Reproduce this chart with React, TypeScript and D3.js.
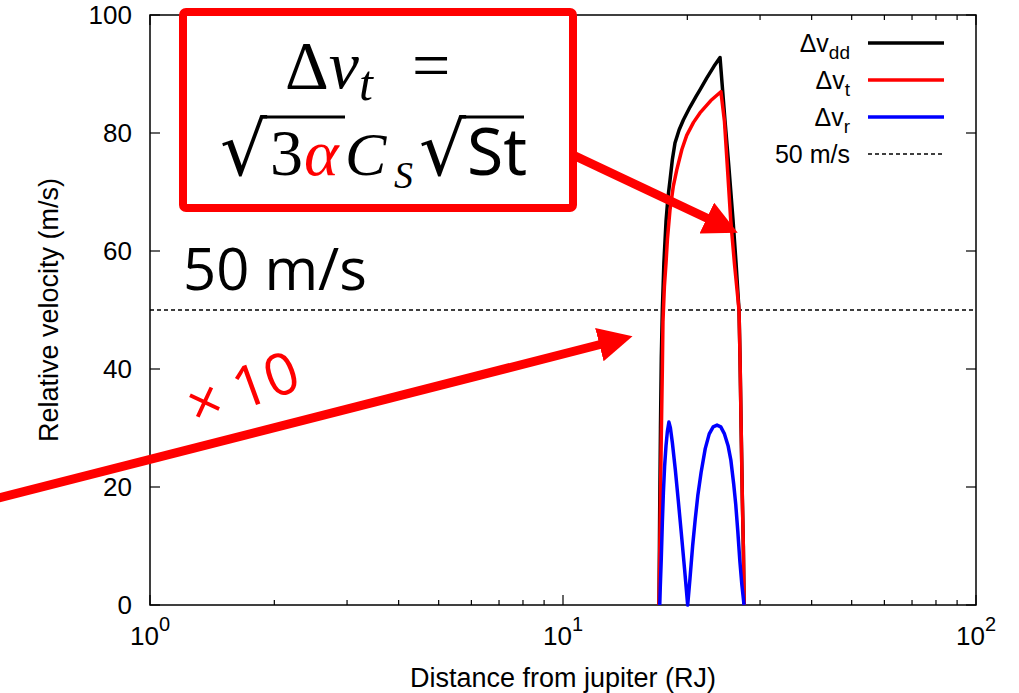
import React, { useEffect, useRef } from "react";
import * as d3 from "d3";

// distance from jupiter (RJ) vs relative velocity (m/s)
const dvDD: [number, number][] = [
  [17.08, 0], [17.14, 15], [17.22, 30], [17.3, 42], [17.4, 50], [17.55, 58],
  [17.76, 65], [17.95, 69], [18.16, 72], [18.4, 75.5], [18.67, 78.3],
  [19.1, 80.5], [19.56, 82.2], [20.3, 84.4], [21.0, 86.2], [21.46, 87.3],
  [22.28, 89.3], [23.2, 91.3], [24.0, 92.8], [24.68, 82], [25.23, 74],
  [25.8, 65.3], [26.24, 58], [26.68, 50], [26.83, 42], [27.0, 30],
  [27.18, 18], [27.33, 10], [27.45, 0],
];
const dvT: [number, number][] = [
  [17.08, 0], [17.17, 12], [17.3, 29], [17.4, 40], [17.46, 48], [17.6, 54],
  [17.76, 58], [17.9, 62], [18.16, 67], [18.5, 71], [18.85, 73.7],
  [19.4, 77.2], [19.93, 79.6], [20.7, 81.8], [21.46, 83.4], [22.8, 85.5],
  [24.12, 87], [24.6, 82], [25.07, 73], [25.47, 65.3], [26.0, 58],
  [26.68, 50], [26.83, 42], [27.0, 30], [27.18, 18], [27.33, 10], [27.45, 0],
];
const dvR: [number, number][] = [
  [17.15, 0], [17.2, 3], [17.3, 8], [17.4, 14], [17.5, 19], [17.62, 23.5],
  [17.76, 27], [17.9, 29.5], [18.05, 31], [18.2, 30], [18.4, 27.5],
  [18.7, 23], [19.0, 18], [19.35, 12], [19.7, 6], [20.04, 0], [20.3, 4.5],
  [20.6, 10], [20.9, 14.5], [21.2, 18.5], [21.6, 22.5], [22.1, 26.5],
  [22.6, 29], [23.1, 30.2], [23.6, 30.5], [24.1, 30.2], [24.6, 29],
  [25.1, 27], [25.5, 24.5], [25.9, 20.5], [26.2, 17], [26.5, 12.5],
  [26.8, 7.5], [27.1, 3.5], [27.44, 0],
];
const threshold = 50;
const yTicks = [0, 20, 40, 60, 80, 100];
const xDecades = [0, 1, 2];

const legend = [
  { main: "\u0394v", sub: "dd", color: "#000000", dash: "" },
  { main: "\u0394v", sub: "t", color: "#ff0000", dash: "" },
  { main: "\u0394v", sub: "r", color: "#0000ff", dash: "" },
  { main: "50 m/s", sub: "", color: "#000000", dash: "4,3" },
];

const W = 1019, H = 693;
const margin = { top: 15, right: 43, bottom: 88, left: 150 };

export default function App() {
  const ref = useRef<SVGSVGElement>(null);

  useEffect(() => {
    const svg = d3.select(ref.current);
    svg.selectAll("*").remove();
    const width = W - margin.left - margin.right;
    const height = H - margin.top - margin.bottom;

    const x = d3.scaleLog().domain([1, 100]).range([0, width]);
    const y = d3.scaleLinear().domain([0, 100]).range([height, 0]);

    const g = svg.append("g")
      .attr("transform", "translate(" + margin.left + "," + margin.top + ")");

    const font = "'Liberation Sans', Arial, sans-serif";

    // y ticks, mirrored
    yTicks.forEach(t => {
      g.append("line").attr("x1", 0).attr("x2", 10).attr("y1", y(t)).attr("y2", y(t))
        .attr("stroke", "#000").attr("stroke-width", 1.2);
      g.append("line").attr("x1", width - 10).attr("x2", width).attr("y1", y(t)).attr("y2", y(t))
        .attr("stroke", "#000").attr("stroke-width", 1.2);
      g.append("text").attr("x", -18).attr("y", y(t) + 9)
        .attr("text-anchor", "end").attr("font-family", font).attr("font-size", 26)
        .text(t);
    });

    // x ticks (log), mirrored
    const minor: number[] = [];
    [1, 10].forEach(d => { for (let k = 2; k <= 9; k++) minor.push(d * k); });
    minor.forEach(v => {
      g.append("line").attr("x1", x(v)).attr("x2", x(v)).attr("y1", height).attr("y2", height - 5)
        .attr("stroke", "#000").attr("stroke-width", 1.2);
      g.append("line").attr("x1", x(v)).attr("x2", x(v)).attr("y1", 0).attr("y2", 5)
        .attr("stroke", "#000").attr("stroke-width", 1.2);
    });
    xDecades.forEach(e => {
      const px = x(Math.pow(10, e));
      g.append("line").attr("x1", px).attr("x2", px).attr("y1", height).attr("y2", height - 10)
        .attr("stroke", "#000").attr("stroke-width", 1.2);
      g.append("line").attr("x1", px).attr("x2", px).attr("y1", 0).attr("y2", 10)
        .attr("stroke", "#000").attr("stroke-width", 1.2);
      const t = g.append("text").attr("x", px).attr("y", height + 40)
        .attr("text-anchor", "middle").attr("font-family", font).attr("font-size", 26);
      t.append("tspan").text("10");
      t.append("tspan").attr("dy", -14).attr("font-size", 20).text(e);
    });

    // frame
    g.append("rect").attr("width", width).attr("height", height)
      .attr("fill", "none").attr("stroke", "#000").attr("stroke-width", 1.5);

    // axis titles
    g.append("text").attr("x", width / 2).attr("y", height + 82)
      .attr("text-anchor", "middle").attr("font-family", font).attr("font-size", 27)
      .text("Distance from jupiter (RJ)");
    g.append("text")
      .attr("transform", "translate(" + (-92) + "," + (height / 2) + ") rotate(-90)")
      .attr("text-anchor", "middle").attr("font-family", font).attr("font-size", 27)
      .text("Relative velocity (m/s)");

    // 50 m/s reference
    g.append("line").attr("x1", 0).attr("x2", width)
      .attr("y1", y(threshold)).attr("y2", y(threshold))
      .attr("stroke", "#000").attr("stroke-width", 1.3).attr("stroke-dasharray", "4,3");

    const line = d3.line<[number, number]>()
      .x(d => x(d[0]))
      .y(d => y(d[1]));

    [[dvDD, "#000000"], [dvT, "#ff0000"], [dvR, "#0000ff"]].forEach(([data, color]) => {
      g.append("path").datum(data as [number, number][])
        .attr("d", line)
        .attr("fill", "none")
        .attr("stroke", color as string)
        .attr("stroke-width", 3.5)
        .attr("stroke-linejoin", "round");
    });

    // legend
    legend.forEach((l, i) => {
      const cy = 28 + i * 37;
      const t = g.append("text").attr("x", width - 126).attr("y", cy + 9)
        .attr("text-anchor", "end").attr("font-family", font).attr("font-size", 25);
      t.append("tspan").text(l.main);
      if (l.sub) t.append("tspan").attr("dy", 7).attr("font-size", 19).text(l.sub);
      g.append("line").attr("x1", width - 108).attr("x2", width - 32)
        .attr("y1", cy).attr("y2", cy)
        .attr("stroke", l.color).attr("stroke-width", l.dash ? 1.3 : 3.5)
        .attr("stroke-dasharray", l.dash || null);
    });

    // annotations drawn on top (slide overlay)
    const ann = svg.append("g");
    ann.append("defs").append("marker")
      .attr("id", "ahead").attr("viewBox", "0 0 10 10").attr("refX", 2).attr("refY", 5)
      .attr("markerWidth", 3.8).attr("markerHeight", 3.8).attr("orient", "auto")
      .append("path").attr("d", "M0,0 L10,5 L0,10 z").attr("fill", "#ff0000");

    ann.append("line").attr("x1", -5).attr("y1", 499).attr("x2", 606).attr("y2", 343)
      .attr("stroke", "#ff0000").attr("stroke-width", 9).attr("marker-end", "url(#ahead)");
    ann.append("line").attr("x1", 573).attr("y1", 155).attr("x2", 713).attr("y2", 221)
      .attr("stroke", "#ff0000").attr("stroke-width", 9).attr("marker-end", "url(#ahead)");

    ann.append("text")
      .attr("transform", "translate(196,427) rotate(-20)")
      .attr("font-family", "'Open Sans', 'Liberation Sans', sans-serif").attr("font-size", 58)
      .attr("fill", "#ff0000").text("\u00d7 10");

    ann.append("rect").attr("x", 183).attr("y", 12).attr("width", 390).attr("height", 196)
      .attr("rx", 3).attr("fill", "#fff").attr("stroke", "#ff0000").attr("stroke-width", 8);

    const serif = "'Liberation Serif', 'DejaVu Serif', serif";
    const l1 = ann.append("text").attr("x", 285).attr("y", 88)
      .attr("font-family", serif).attr("font-size", 68);
    l1.append("tspan").text("\u0394");
    l1.append("tspan").attr("font-style", "italic").text("v");
    l1.append("tspan").attr("font-style", "italic").attr("font-size", 50).attr("dy", 12).text("t");
    l1.append("tspan").attr("dy", -12).attr("x", 412).text("=");

    // second line, each piece placed on its own
    const sqrtFont = "'DejaVu Sans', sans-serif";
    ann.append("text").attr("x", 220).attr("y", 175).attr("font-family", sqrtFont)
      .attr("font-size", 74).text("\u221a");
    ann.append("text").attr("x", 270).attr("y", 175).attr("font-family", serif)
      .attr("font-size", 66).text("3");
    ann.append("text").attr("x", 304).attr("y", 175).attr("font-family", serif)
      .attr("font-size", 66).attr("font-style", "italic").attr("fill", "#ff0000").text("\u03b1");
    ann.append("text").attr("x", 345).attr("y", 175).attr("font-family", serif)
      .attr("font-size", 62).attr("font-style", "italic").text("C");
    ann.append("text").attr("x", 394).attr("y", 188).attr("font-family", serif)
      .attr("font-size", 38).attr("font-style", "italic").text("S");
    ann.append("text").attr("x", 419).attr("y", 175).attr("font-family", sqrtFont)
      .attr("font-size", 74).text("\u221a");
    ann.append("text").attr("x", 467).attr("y", 175).attr("font-family", "'Noto Sans', sans-serif")
      .attr("font-size", 66).text("St");
    ann.append("line").attr("x1", 262).attr("x2", 345).attr("y1", 117).attr("y2", 117)
      .attr("stroke", "#000").attr("stroke-width", 3);
    ann.append("line").attr("x1", 461).attr("x2", 524).attr("y1", 117).attr("y2", 117)
      .attr("stroke", "#000").attr("stroke-width", 3);

    ann.append("text").attr("x", 183).attr("y", 290)
      .attr("font-family", "'Open Sans', 'Noto Sans', sans-serif").attr("font-size", 58)
      .text("50 m/s");
  }, []);

  return (
    <svg ref={ref} width={W} height={H}
      style={{ position: "absolute", left: 0, top: 0, background: "#fff" }} />
  );
}
